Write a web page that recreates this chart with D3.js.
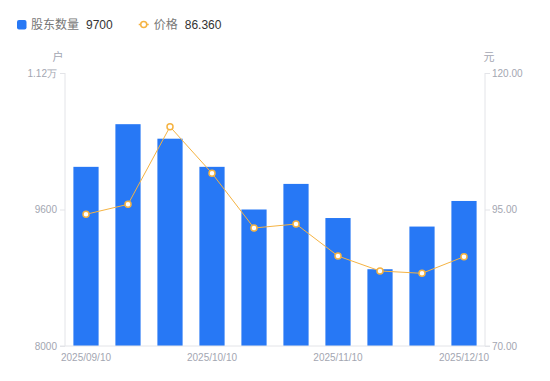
<!DOCTYPE html>
<html><head><meta charset="utf-8">
<script src="https://cdn.jsdelivr.net/npm/d3@7/dist/d3.min.js"></script>
<style>
html,body{margin:0;padding:0;background:#fff;}
svg{display:block;font-family:"Liberation Sans","Noto Sans CJK SC",sans-serif;}
</style></head>
<body>
<script>
const categories = ["2025/09/10","2025/09/20","2025/09/30","2025/10/10","2025/10/20","2025/10/31","2025/11/10","2025/11/20","2025/11/30","2025/12/10"];
const holders = [10100, 10600, 10430, 10100, 9600, 9900, 9500, 8900, 9400, 9700];
const prices = [94.12, 95.95, 110.16, 101.63, 91.61, 92.34, 86.48, 83.74, 83.31, 86.36];
const xTickLabels = ["2025/09/10","2025/10/10","2025/11/10","2025/12/10"];
const leftTicks = [8000, 9600, 11200];
const rightTicks = [70, 95, 120];
const legendItems = [{name:"股东数量", value:"9700", type:"bar"},{name:"价格", value:"86.360", type:"line"}];

const W = 550, H = 381;
const m = {left:65, right:65, top:73, bottom:35};
const blue = "#2778f5", orange = "#f5b342", axisCol = "#e3e4e8", labCol = "#a3a6b1";

const svg = d3.select("body").append("svg").attr("width", W).attr("height", H);

const x = d3.scaleBand().domain(categories).range([m.left, W - m.right]).paddingInner(0.4).paddingOuter(0.2);
const yL = d3.scaleLinear().domain([8000, 11200]).range([H - m.bottom, m.top]);
const yR = d3.scaleLinear().domain([70, 120]).range([H - m.bottom, m.top]);

// bars
svg.append("g").selectAll("rect").data(holders).join("rect")
  .attr("x", (d,i) => x(categories[i]))
  .attr("width", x.bandwidth())
  .attr("y", d => yL(d))
  .attr("height", d => yL(8000) - yL(d))
  .attr("fill", blue);

// axes
const leftAxis = svg.append("g").attr("transform", `translate(${m.left},0)`)
  .call(d3.axisLeft(yL).tickValues(leftTicks).tickSize(5).tickPadding(3)
    .tickFormat(d => d >= 10000 ? (d/10000).toFixed(2) + "万" : d));
const rightAxis = svg.append("g").attr("transform", `translate(${W - m.right},0)`)
  .call(d3.axisRight(yR).tickValues(rightTicks).tickSize(5).tickPadding(2).tickFormat(d3.format(".2f")));
[leftAxis, rightAxis].forEach(g => {
  g.select(".domain").attr("stroke", axisCol).attr("d", `M0,${m.top}V${H-m.bottom}`);
  g.selectAll(".tick line").attr("stroke", axisCol);
  g.selectAll(".tick text").attr("fill", labCol).attr("font-size", 10);
});
// bottom axis line
svg.append("line").attr("x1", m.left - 5).attr("x2", W - m.right + 5)
  .attr("y1", yL(8000)).attr("y2", yL(8000)).attr("stroke", axisCol);

// x axis labels
const bottomAxis = svg.append("g").attr("transform", `translate(0,${H - m.bottom})`)
  .call(d3.axisBottom(x).tickValues(xTickLabels).tickSize(0).tickPadding(8));
bottomAxis.select(".domain").remove();
bottomAxis.selectAll(".tick text").attr("fill", labCol).attr("font-size", 10);

// axis units
svg.append("text").attr("x", m.left - 7).attr("y", m.top - 12).attr("text-anchor","middle")
  .attr("fill", labCol).attr("font-size", 11).text("户");
svg.append("text").attr("x", W - m.right + 4).attr("y", m.top - 12).attr("text-anchor","middle")
  .attr("fill", labCol).attr("font-size", 11).text("元");

// line
const cx = (i) => x(categories[i]) + x.bandwidth()/2;
svg.append("path").datum(prices)
  .attr("d", d3.line().x((d,i) => cx(i)).y(d => yR(d)))
  .attr("fill","none").attr("stroke", orange).attr("stroke-width", 1);
svg.append("g").selectAll("circle").data(prices).join("circle")
  .attr("cx", (d,i) => cx(i)).attr("cy", d => yR(d)).attr("r", 3)
  .attr("fill", "#fff").attr("stroke", orange).attr("stroke-width", 1.5);

// legend
const lg = svg.append("g").attr("transform","translate(17,24.5)");
let lx = 0;
legendItems.forEach(it => {
  const g = lg.append("g").attr("transform", `translate(${lx},0)`);
  let tx;
  if (it.type === "bar") {
    g.append("rect").attr("x",0).attr("y",-4.5).attr("width",9.5).attr("height",9.5).attr("rx",2).attr("fill",blue);
    tx = 14;
  } else {
    g.append("line").attr("x1",0).attr("x2",10).attr("y1",0).attr("y2",0).attr("stroke",orange).attr("stroke-width",1.5);
    g.append("circle").attr("cx",5).attr("cy",0).attr("r",3).attr("fill","#fff").attr("stroke",orange).attr("stroke-width",1.5);
    tx = 15;
  }
  const t1 = g.append("text").attr("x",tx).attr("y",0).attr("dy","0.35em").attr("font-size",12).attr("fill","#777").text(it.name);
  const w1 = t1.node().getComputedTextLength();
  const t2 = g.append("text").attr("x",tx + w1 + 7).attr("y",0).attr("dy","0.35em").attr("font-size",12).attr("fill","#333").text(it.value);
  const w2 = t2.node().getComputedTextLength();
  lx += tx + w1 + 7 + w2 + 26;
});
</script>
</body></html>
